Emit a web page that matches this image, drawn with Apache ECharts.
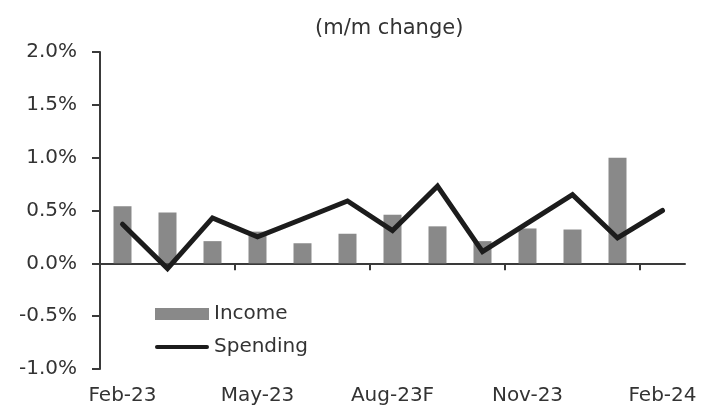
<!DOCTYPE html>
<html>
<head>
<meta charset="utf-8">
<script src="https://cdn.jsdelivr.net/npm/echarts@6/dist/echarts.min.js"></script>
<style>
html,body{margin:0;padding:0;background:#fff;}
#chart{width:704px;height:409px;}
</style>
</head>
<body>
<div id="chart"></div>
<script>
var categories = ['Feb-23','Mar-23','Apr-23','May-23','Jun-23','Jul-23','Aug-23F','Sep-23','Oct-23','Nov-23','Dec-23','Jan-24','Feb-24'];
var income = [0.54, 0.48, 0.21, 0.30, 0.19, 0.28, 0.46, 0.35, 0.21, 0.33, 0.32, 1.00, null];
var spending = [0.37, -0.05, 0.43, 0.25, 0.42, 0.59, 0.31, 0.73, 0.11, 0.38, 0.65, 0.24, 0.50];
var yTicks = {min: -1, max: 2, interval: 0.5};
var xTickPositions = [0, 3, 6, 9, 12];
var titleText = '(m/m change)';

var FONT = 'DejaVu Sans';
var chart = echarts.init(document.getElementById('chart'), null, {renderer: 'canvas'});
chart.setOption({
  animation: false,
  backgroundColor: '#fff',
  title: {
    text: titleText,
    left: 310, top: 12,
    textStyle: {fontFamily: FONT, fontSize: 21, fontWeight: 'normal', color: '#333', lineHeight: 24}
  },
  legend: {
    orient: 'vertical',
    left: 155, top: 304, padding: 0,
    itemWidth: 54, itemHeight: 12,
    itemGap: 13,
    symbolKeepAspect: true,
    textStyle: {fontFamily: FONT, fontSize: 20, color: '#333', lineHeight: 20},
    data: [
      {name: 'Income', icon: 'rect'},
      {name: 'Spending', icon: 'path://M2,0 L54,0 A2,2 0 0 1 54,4 L2,4 A2,2 0 0 1 2,0 Z'}
    ]
  },
  grid: {left: 100, right: 19, top: 52, bottom: 40, containLabel: false},
  xAxis: [
    {
      type: 'category', data: categories, boundaryGap: true, position: 'bottom',
      axisLine: {onZero: true, lineStyle: {color: '#3a3a3a', width: 2}},
      axisTick: {show: false},
      axisLabel: {show: false},
      splitLine: {show: false}
    },
    {
      type: 'category', data: categories, boundaryGap: true, position: 'bottom',
      axisLine: {show: false, onZero: false},
      axisTick: {show: false},
      axisLabel: {show: true, interval: 2, margin: 17, fontFamily: FONT, fontSize: 20, color: '#333'},
      splitLine: {show: false}
    },
    {
      type: 'value', min: 0, max: categories.length, position: 'bottom',
      axisLine: {show: true, onZero: true, onZeroAxisIndex: 0, lineStyle: {opacity: 0}},
      axisTick: {show: true, customValues: xTickPositions, length: 7, lineStyle: {color: '#3a3a3a', width: 2, opacity: 1}},
      axisLabel: {show: false},
      splitLine: {show: false}
    }
  ],
  yAxis: {
    type: 'value', min: yTicks.min, max: yTicks.max, interval: yTicks.interval,
    axisLine: {show: true, onZero: false, lineStyle: {color: '#3a3a3a', width: 2}},
    axisTick: {show: true, length: 8, lineStyle: {color: '#3a3a3a', width: 2}},
    splitLine: {show: false},
    axisLabel: {
      margin: 23, fontFamily: FONT, fontSize: 20, color: '#333',
      formatter: function (v) { return v.toFixed(1) + '%'; }
    }
  },
  series: [
    {
      name: 'Income', type: 'bar', data: income, xAxisIndex: 0,
      barWidth: 18,
      itemStyle: {color: '#898989'}
    },
    {
      name: 'Spending', type: 'line', data: spending, xAxisIndex: 0,
      symbol: 'none', showSymbol: false,
      lineStyle: {color: '#1c1c1c', width: 5, cap: 'round', join: 'miter'},
      itemStyle: {color: '#1c1c1c'}
    }
  ]
});
</script>
</body>
</html>
